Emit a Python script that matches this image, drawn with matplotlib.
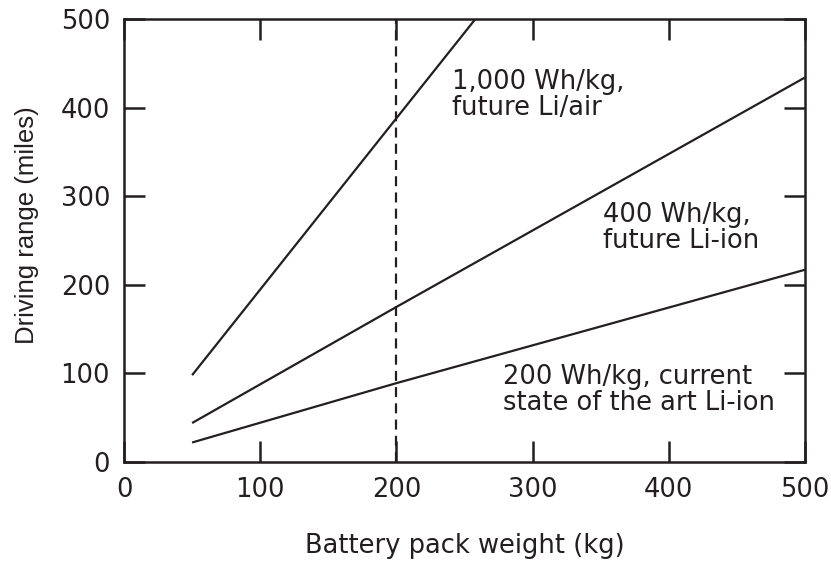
import matplotlib
matplotlib.use("Agg")
import matplotlib.pyplot as plt

plt.rcParams['font.family'] = ['DejaVu Sans']

# Data
x_liair = [50, 200, 258]
y_liair = [98, 388, 500]
x_future_liion = [50, 200, 500]
y_future_liion = [44, 175, 434]
x_current_liion = [50, 200, 500]
y_current_liion = [22, 89, 217]
dashed_x = 200

labels = ["1,000 Wh/kg,\nfuture Li/air", "400 Wh/kg,\nfuture Li-ion",
          "200 Wh/kg, current\nstate of the art Li-ion"]
label_pos = [(241, 444), (352, 293), (278, 111)]

ticks = [0, 100, 200, 300, 400, 500]

ink = '#231f20'
fs = 18.5
fig = plt.figure(figsize=(8.31, 5.63), dpi=100)
ax = fig.add_axes([124/831, (563-462)/563, (805-124)/831, (462-19)/563])

lw = 1.6
ax.plot(x_liair, y_liair, color=ink, lw=lw, solid_capstyle='butt')
ax.plot(x_future_liion, y_future_liion, color=ink, lw=lw, solid_capstyle='butt')
ax.plot(x_current_liion, y_current_liion, color=ink, lw=lw, solid_capstyle='butt')
ax.plot([dashed_x, dashed_x], [0, 500], color=ink, lw=lw, dashes=(4.5, 2.8))

for txt, (tx, ty) in zip(labels, label_pos):
    ax.text(tx, ty, txt, fontsize=fs, color=ink, va='top', ha='left', linespacing=1.0)

ax.set_xlim(0, 500)
ax.set_ylim(0, 500)
ax.set_xticks(ticks)
ax.set_yticks(ticks)
ax.tick_params(direction='in', length=15, width=1.8, top=True, right=True,
               labelsize=fs, colors=ink)
ax.tick_params(axis='x', pad=10.5)
ax.tick_params(axis='y', pad=10)
for s in ax.spines.values():
    s.set_linewidth(1.8)
    s.set_color(ink)

ax.set_xlabel("Battery pack weight (kg)", fontsize=fs, color=ink, va='center')
ax.xaxis.set_label_coords(0.5, (462 - 546) / 443)
ax.set_ylabel("Driving range (miles)", fontsize=fs, color=ink, va='center',
              family=['Liberation Sans', 'DejaVu Sans'])
ax.yaxis.set_label_coords((27 - 124) / 681, 0.535)

fig.savefig("out.png", dpi=100)
